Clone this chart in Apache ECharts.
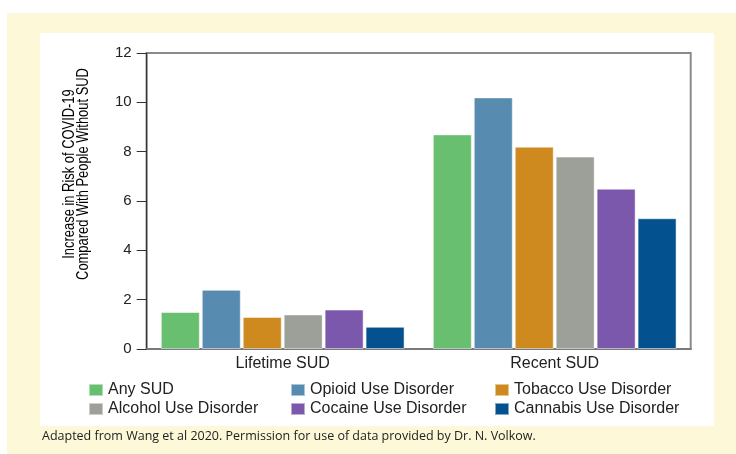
<!DOCTYPE html>
<html><head><meta charset="utf-8">
<script src="https://cdn.jsdelivr.net/npm/echarts@6/dist/echarts.min.js"></script>
<style>html,body{margin:0;padding:0;background:#fff}#c{width:736px;height:454px}</style>
</head><body><div id="c"></div>
<script>
const categories = ['Lifetime SUD', 'Recent SUD'];
const seriesNames = ['Any SUD', 'Opioid Use Disorder', 'Tobacco Use Disorder', 'Alcohol Use Disorder', 'Cocaine Use Disorder', 'Cannabis Use Disorder'];
const anySUD = [1.5, 8.7];
const opioid = [2.4, 10.2];
const tobacco = [1.3, 8.2];
const alcohol = [1.4, 7.8];
const cocaine = [1.6, 6.5];
const cannabis = [0.9, 5.3];
const yTicks = [0, 2, 4, 6, 8, 10, 12];
const colors = ['#67bf6f', '#588bb0', '#cf8a1f', '#9d9f99', '#7c58ad', '#03528f'];
const values = [anySUD, opioid, tobacco, alcohol, cocaine, cannabis];

const chart = echarts.init(document.getElementById('c'), null, {renderer: 'canvas'});
const legendText = {fontSize: 16, color: '#222', fontFamily: 'Liberation Sans, Arial, sans-serif', padding: [0, 0, 0, 0]};
function legendCol(names, left) {
  return {data: names, orient: 'vertical', left: left, top: 382, itemWidth: 14, itemHeight: 12,
    itemGap: 3, icon: 'rect', textStyle: legendText, selectedMode: false, padding: 0};
}
chart.setOption({
  animation: false,
  backgroundColor: '#ffffff',
  graphic: [
    {type: 'rect', z: -10, shape: {x: 7, y: 13, width: 729, height: 441}, style: {fill: '#fdf8d7'}},
    {type: 'rect', z: -9, shape: {x: 40, y: 33, width: 674, height: 393}, style: {fill: '#ffffff'}},
    {type: 'text', x: 42, y: 436, style: {text: 'Adapted from Wang et al 2020. Permission for use of data provided by Dr. N. Volkow.',
      fontSize: 12.5, fill: '#222', fontFamily: 'Open Sans, Noto Sans, sans-serif', verticalAlign: 'middle', align: 'left'}},
    {type: 'text', x: 76.5, y: 174, rotation: Math.PI / 2, scaleX: 0.76,
      style: {text: 'Increase in Risk of COVID-19\nCompared With People Without SUD', fontSize: 17, lineHeight: 13.5,
        fill: '#000', fontFamily: 'Liberation Sans, Arial, sans-serif', align: 'center', verticalAlign: 'middle'}}
  ],
  grid: {left: 146.7, right: 45.3, top: 53, bottom: 105, show: true, borderColor: '#8a8a8a', borderWidth: 2, backgroundColor: 'transparent'},
  legend: [
    legendCol([seriesNames[0], seriesNames[3]], 88),
    legendCol([seriesNames[1], seriesNames[4]], 290),
    legendCol([seriesNames[2], seriesNames[5]], 494)
  ],
  xAxis: {type: 'category', data: categories,
    axisLine: {lineStyle: {color: '#7a7a7a', width: 2}}, axisTick: {show: false},
    axisLabel: {fontSize: 16, color: '#222', margin: 7, fontFamily: 'Liberation Sans, Arial, sans-serif'}},
  yAxis: {type: 'value', min: yTicks[0], max: yTicks[yTicks.length - 1], interval: 2,
    axisLine: {show: true, lineStyle: {color: '#333', width: 1.2}},
    axisTick: {show: true, length: 10, lineStyle: {color: '#333', width: 1}},
    axisLabel: {fontSize: 15, color: '#222', margin: 15, fontFamily: 'Liberation Sans, Arial, sans-serif'},
    splitLine: {show: false}},
  series: seriesNames.map((n, i) => ({
    name: n, type: 'bar', data: values[i], barWidth: 39, barGap: '5%',
    itemStyle: {color: colors[i], borderColor: 'rgba(255,255,255,0.5)', borderWidth: 1}
  }))
});
</script></body></html>
